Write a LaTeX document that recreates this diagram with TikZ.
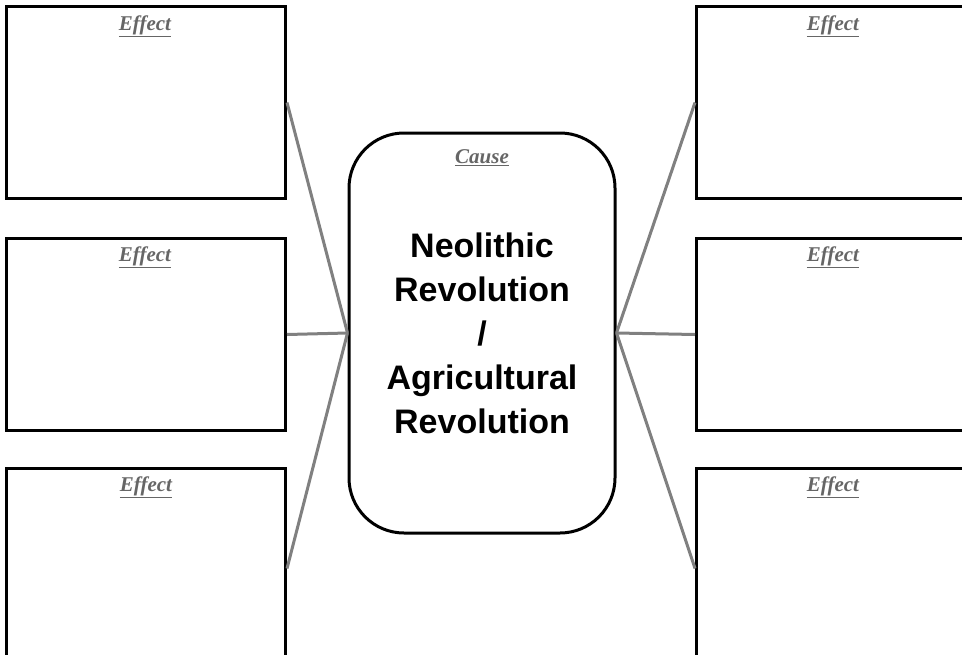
\documentclass[tikz,border=0pt]{standalone}
\usepackage{fontspec}
\setmainfont{Liberation Serif}
\setsansfont{Liberation Sans}
\begin{document}
\begin{tikzpicture}[x=1pt,y=-1pt,
  effbox/.style={draw=black,line width=3pt,minimum width=279pt,minimum height=192pt,inner sep=0pt,anchor=north west},
  causebox/.style={draw=black,line width=3pt,rounded corners=55pt,minimum width=266pt,minimum height=400pt,inner sep=0pt,
    font=\sffamily\bfseries\fontsize{34}{44}\selectfont,align=center},
  lbl/.style={font=\itshape\bfseries\fontsize{21}{22}\selectfont,text=black!60,inner sep=1pt},
  conn/.style={draw=black!50,line width=3pt}]
\clip (0,0) rectangle (962,654);
\fill[white] (0,0) rectangle (962,654);
% effect boxes
\node[effbox] (tl) at (5,5) {};
\node[effbox] (ml) at (5,237) {};
\node[effbox,minimum height=200pt] (bl) at (5,467) {};
\node[effbox] (tr) at (695,5) {};
\node[effbox] (mr) at (695,237) {};
\node[effbox,minimum height=200pt] (br) at (695,467) {};
% cause box
\node[causebox] (c) at (482,333) {Neolithic\\Revolution\\/\\Agricultural\\Revolution};
% labels
\node[lbl] (ltl) at (145,26) {\underline{Effect}};
\node[lbl] (lml) at (145,257) {\underline{Effect}};
\node[lbl] (lbl1) at (146,487) {\underline{Effect}};
\node[lbl] (ltr) at (833,26) {\underline{Effect}};
\node[lbl] (lmr) at (833,257) {\underline{Effect}};
\node[lbl] (lbr) at (833,487) {\underline{Effect}};
\node[lbl] (lc) at (482,158) {\underline{Cause}};
% connectors
\draw[conn] (tl.east) -- (c.west);
\draw[conn] (ml.east) -- (c.west);
\draw[conn] (bl.east) -- (c.west);
\draw[conn] (tr.west) -- (c.east);
\draw[conn] (mr.west) -- (c.east);
\draw[conn] (br.west) -- (c.east);
\end{tikzpicture}
\end{document}
